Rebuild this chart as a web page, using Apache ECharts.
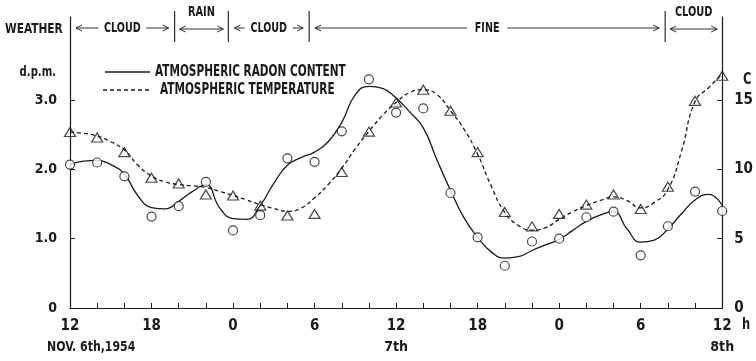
<!DOCTYPE html>
<html>
<head>
<meta charset="utf-8">
<script src="https://cdn.jsdelivr.net/npm/echarts@6/dist/echarts.min.js"></script>
<style>
  html, body { margin: 0; padding: 0; background: #fff; }
  #chart { width: 756px; height: 361px; }
</style>
</head>
<body>
<div id="chart"></div>
<script>
// Hours elapsed since 12h, Nov. 6th 1954 (observations every 2 hours)
const obsHours = [0, 2, 4, 6, 8, 10, 12, 14, 16, 18, 20, 22, 24, 26, 28, 30, 32, 34, 36, 38, 40, 42, 44, 46, 48];
// Atmospheric radon content, d.p.m.
const radonObs = [2.07, 2.10, 1.90, 1.32, 1.47, 1.82, 1.12, 1.34, 2.16, 2.11, 2.55, 3.30, 2.82, 2.88, 1.66, 1.02, 0.61, 0.96, 1.00, 1.31, 1.39, 0.76, 1.18, 1.68, 1.40];
// Atmospheric temperature, C
const tempObs = [12.70, 12.30, 11.25, 9.40, 8.99, 8.19, 8.12, 7.39, 6.67, 6.79, 9.81, 12.73, 14.83, 15.75, 14.23, 11.25, 6.93, 5.89, 6.79, 7.46, 8.19, 7.15, 8.75, 14.95, 16.76];

// Smoothed trend curves, read hourly
const curveHours = [0,1,2,3,4,5,6,7,8,9,10,11,12,13,14,15,16,17,18,19,20,21,22,23,24,25,26,27,28,29,30,31,32,33,34,35,36,37,38,39,40,41,42,43,44,45,46,47,48];
const radonCurve = [2.07,2.12,2.13,2.07,1.93,1.62,1.45,1.43,1.54,1.68,1.78,1.45,1.29,1.28,1.48,1.80,2.06,2.17,2.25,2.40,2.68,3.08,3.20,3.17,3.03,2.83,2.60,2.14,1.70,1.30,1.02,0.81,0.72,0.74,0.83,0.91,0.99,1.12,1.25,1.34,1.39,1.14,0.95,0.98,1.14,1.36,1.56,1.64,1.48];
const tempCurve = [12.70,12.60,12.41,12.00,11.40,10.30,9.52,9.10,8.91,8.82,8.70,8.42,8.12,7.80,7.46,7.18,6.98,7.20,7.95,8.91,10.10,11.50,12.75,13.90,14.83,15.55,15.75,15.40,14.23,12.90,11.10,8.80,6.90,5.95,5.62,5.80,6.40,6.95,7.39,7.75,8.02,7.75,7.22,7.62,8.55,11.30,14.90,15.90,16.90];

// Weather periods (hours)
const weatherStart = [0, 7.7, 11.65, 17.6, 43.8];
const weatherEnd = [7.7, 11.65, 17.6, 43.8, 48];
const weatherLabel = ['CLOUD', 'RAIN', 'CLOUD', 'FINE', 'CLOUD'];
const weatherLabelAbove = [false, true, false, false, true];

const xLabelHours = [0, 6, 12, 18, 24, 30, 36, 42, 48];
const radonTicks = [0, 1, 2, 3];
const tempTicks = [0, 5, 10, 15];

const seriesNames = ['ATMOSPHERIC RADON CONTENT', 'ATMOSPHERIC TEMPERATURE'];

const FONT_FAMILY = "'DejaVu Sans Condensed','DejaVu Sans',sans-serif";
const INK = '#1a1a1a';
const font = (size) => 'bold ' + size + 'px ' + FONT_FAMILY;

const pair = (xs, ys) => xs.map((x, i) => [x, ys[i]]);

// Condensed lettering: bold text squeezed horizontally about its anchor
function tag(text, x, y, size, sx, align) {
  return {
    type: 'text', x: x, y: y, scaleX: sx, silent: true,
    style: { text: text, x: 0, y: 0, align: align || 'left', verticalAlign: 'middle', font: font(size), fill: INK }
  };
}

function arrowHead(x, y, dir) {
  return {
    type: 'polyline',
    shape: { points: [[x - dir * 6, y - 3], [x, y], [x - dir * 6, y + 3]] },
    style: { stroke: INK, lineWidth: 0.9, fill: null }
  };
}
function arrowLine(x1, x2, y, headL, headR) {
  const els = [{
    type: 'line',
    shape: { x1: x1, y1: y, x2: x2, y2: y },
    style: { stroke: INK, lineWidth: 0.9 }
  }];
  if (headL) els.push(arrowHead(x1, y, -1));
  if (headR) els.push(arrowHead(x2, y, 1));
  return els;
}

function renderWeather(params, api) {
  const i = params.dataIndex;
  const cs = params.coordSys;
  const x0 = api.coord([api.value(0), 0])[0];
  const x1 = api.coord([api.value(1), 0])[0];
  const rowY = cs.y + 11;
  const label = weatherLabel[i];
  const cx = (x0 + x1) / 2;
  let children = [];
  if (i > 0) {
    children.push({
      type: 'line',
      shape: { x1: x0, y1: cs.y - 6, x2: x0, y2: cs.y + 25 },
      style: { stroke: INK, lineWidth: 1.1 }
    });
  }
  if (weatherLabelAbove[i]) {
    children.push(tag(label, cx, cs.y - 5, 14, 0.78, 'center'));
    children = children.concat(arrowLine(x0 + 5, x1 - 5, rowY + 1, true, true));
  } else {
    const hw = label.length * 3.8 + 5;
    children.push(tag(label, cx, rowY, 14, 0.76, 'center'));
    children = children.concat(arrowLine(x0 + 6, cx - hw, rowY, true, false));
    children = children.concat(arrowLine(cx + hw, x1 - 6, rowY, false, true));
  }
  return { type: 'group', children: children };
}

const hourLabel = (h) => String((12 + h) % 24);

const chart = echarts.init(document.getElementById('chart'), null, { renderer: 'canvas' });
chart.setOption({
  animation: false,
  backgroundColor: '#fff',
  grid: { left: 70, right: 31, top: 17, bottom: 53 },
  xAxis: {
    type: 'value',
    min: 0, max: 48, interval: 2,
    axisLine: { lineStyle: { color: INK, width: 1.2 } },
    axisTick: { inside: true, length: 5, lineStyle: { color: INK, width: 1 } },
    splitLine: { show: false },
    axisLabel: {
      customValues: xLabelHours,
      margin: 8,
      color: INK,
      formatter: (v) => {
        if (v === 24) return '{n|' + hourLabel(v) + '}\n{d|7th}';
        if (v === 48) return '{n|' + hourLabel(v) + '}\n{d|8th}';
        return '{n|' + hourLabel(v) + '}';
      },
      rich: {
        n: { fontFamily: FONT_FAMILY, fontWeight: 'bold', fontSize: 15, color: INK, lineHeight: 21 },
        d: { fontFamily: FONT_FAMILY, fontWeight: 'bold', fontSize: 14, color: INK, lineHeight: 21 }
      }
    }
  },
  yAxis: [{
    type: 'value', min: 0, max: 4.2,
    axisLine: { show: true, lineStyle: { color: INK, width: 1.2 } },
    axisTick: { show: true, inside: true, length: 5, customValues: radonTicks, lineStyle: { color: INK } },
    splitLine: { show: false },
    axisLabel: {
      customValues: radonTicks, margin: 13, color: INK,
      fontFamily: FONT_FAMILY, fontWeight: 'bold', fontSize: 14,
      formatter: (v) => v === 0 ? '0' : v.toFixed(1)
    }
  }, {
    type: 'value', min: 0, max: 21, position: 'right',
    axisLine: { show: true, lineStyle: { color: INK, width: 1.2 } },
    axisTick: { show: true, inside: true, length: 5, customValues: tempTicks, lineStyle: { color: INK } },
    splitLine: { show: false },
    axisLabel: {
      customValues: tempTicks, margin: 12, color: INK,
      fontFamily: FONT_FAMILY, fontWeight: 'bold', fontSize: 15
    }
  }],
  graphic: [
    tag('WEATHER', 5, 29, 14, 0.84),
    tag('d.p.m.', 56, 72, 14, 0.8, 'right'),
    tag('C', 743, 80, 15, 0.85),
    tag('h', 742, 325, 15, 0.85),
    tag('NOV. 6th,1954', 47, 347, 14, 0.87),
    // key
    { type: 'line', silent: true, shape: { x1: 105, y1: 72, x2: 150, y2: 72 }, style: { stroke: INK, lineWidth: 1.3 } },
    tag(seriesNames[0], 155, 72, 15, 0.78),
    { type: 'line', silent: true, shape: { x1: 103, y1: 90, x2: 150, y2: 90 }, style: { stroke: INK, lineWidth: 1.3, lineDash: [4, 3] } },
    tag(seriesNames[1], 160, 90, 15, 0.78)
  ],
  series: [
    {
      name: seriesNames[0],
      type: 'line',
      yAxisIndex: 0,
      data: pair(curveHours, radonCurve),
      smooth: 0.5,
      symbol: 'none',
      lineStyle: { color: INK, width: 1.3, type: 'solid' },
      z: 3
    },
    {
      name: seriesNames[1],
      type: 'line',
      yAxisIndex: 1,
      data: pair(curveHours, tempCurve),
      smooth: 0.5,
      symbol: 'none',
      lineStyle: { color: INK, width: 1.3, type: [4, 3] },
      z: 3
    },
    {
      name: 'radon-obs',
      type: 'scatter',
      yAxisIndex: 0,
      data: pair(obsHours, radonObs),
      symbol: 'circle',
      symbolSize: 9,
      itemStyle: { color: '#fff', borderColor: INK, borderWidth: 1.2 },
      z: 4
    },
    {
      name: 'temp-obs',
      type: 'scatter',
      yAxisIndex: 1,
      data: pair(obsHours, tempObs),
      symbol: 'triangle',
      symbolSize: [11, 9],
      itemStyle: { color: 'rgba(255,255,255,0)', borderColor: INK, borderWidth: 1.2 },
      z: 4
    },
    {
      name: 'weather',
      type: 'custom',
      yAxisIndex: 0,
      data: weatherStart.map((s, i) => [s, weatherEnd[i]]),
      renderItem: renderWeather,
      clip: false,
      silent: true,
      z: 5
    }
  ]
});
</script>
</body>
</html>
